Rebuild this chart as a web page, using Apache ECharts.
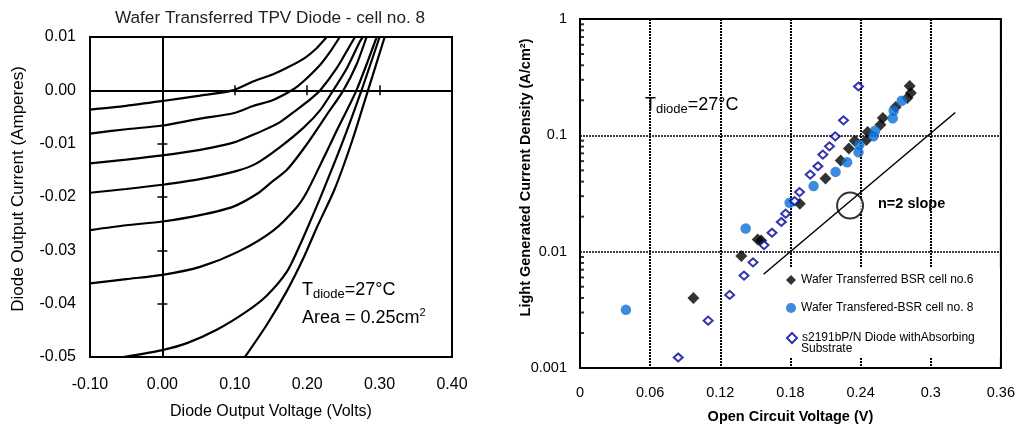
<!DOCTYPE html>
<html><head><meta charset="utf-8">
<script src="https://cdn.jsdelivr.net/npm/echarts@6/dist/echarts.min.js"></script>
<style>html,body{margin:0;padding:0;background:#fff}#c{width:1018px;height:429px}</style>
</head><body><div id="c"></div>
<script>
const FONT = '"Liberation Sans", Arial, Helvetica, sans-serif';

// ---------- Left chart: I-V curves ----------
const leftTitle = 'Wafer Transferred TPV Diode - cell no. 8';
const leftXName = 'Diode Output Voltage (Volts)';
const leftYName = 'Diode Output Current (Amperes)';
const curve1 = [[-0.10,-0.0036],[-0.05,-0.0029],[0.00,-0.0020],[0.052,-0.0010],[0.097,0.0000],[0.126,0.0017],[0.153,0.0030],[0.176,0.0045],[0.197,0.0061],[0.213,0.0079],[0.227,0.0100]];
const curve2 = [[-0.10,-0.0081],[-0.05,-0.0073],[0.00,-0.0066],[0.052,-0.0053],[0.098,-0.0043],[0.126,-0.0029],[0.153,-0.0018],[0.181,0.0002],[0.195,0.0017],[0.218,0.0048],[0.232,0.0073],[0.245,0.0100]];
const curve3 = [[-0.10,-0.0137],[-0.05,-0.0130],[0.00,-0.0122],[0.05,-0.0112],[0.098,-0.0098],[0.126,-0.0083],[0.162,-0.0060],[0.185,-0.0037],[0.205,-0.0016],[0.218,0.0000],[0.241,0.0042],[0.257,0.0079],[0.266,0.0100]];
const curve4 = [[-0.10,-0.0192],[-0.05,-0.0185],[0.00,-0.0177],[0.05,-0.0167],[0.103,-0.0151],[0.130,-0.0137],[0.162,-0.0107],[0.195,-0.0070],[0.218,-0.0037],[0.236,0.0000],[0.255,0.0042],[0.273,0.0092],[0.277,0.0100]];
const curve5 = [[-0.10,-0.0262],[-0.05,-0.0253],[0.00,-0.0246],[0.052,-0.0234],[0.098,-0.0218],[0.132,-0.0193],[0.150,-0.0173],[0.172,-0.0149],[0.199,-0.0102],[0.227,-0.0046],[0.250,0.0000],[0.268,0.0048],[0.282,0.0100]];
const curve6 = [[-0.10,-0.0362],[-0.05,-0.0354],[0.00,-0.0346],[0.052,-0.0331],[0.107,-0.0301],[0.153,-0.0263],[0.185,-0.0220],[0.199,-0.0192],[0.218,-0.0140],[0.241,-0.0075],[0.268,0.0000],[0.296,0.0100]];
const curve7 = [[-0.054,-0.0500],[0.000,-0.0487],[0.034,-0.0474],[0.075,-0.0449],[0.116,-0.0415],[0.144,-0.0385],[0.172,-0.0340],[0.190,-0.0290],[0.206,-0.0240],[0.220,-0.0195],[0.248,-0.0100],[0.275,0.0000],[0.300,0.0100]];
const curve8 = [[0.114,-0.0500],[0.144,-0.0440],[0.172,-0.0376],[0.195,-0.0314],[0.213,-0.0258],[0.238,-0.0185],[0.262,-0.0095],[0.284,0.0000],[0.307,0.0100]];
const ivCurves = [curve1, curve2, curve3, curve4, curve5, curve6, curve7, curve8];

// ---------- Right chart: Jsc vs Voc ----------
const rightXName = 'Open Circuit Voltage (V)';
const rightYName = 'Light Generated Current Density (A/cm²)';
const legendNames = ['Wafer Transferred BSR cell no.6', 'Wafer Transfered-BSR cell no. 8', 's2191bP/N Diode withAbsorbing Substrate'];
const legendLabels = ['Wafer Transferred BSR cell no.6', 'Wafer Transfered-BSR cell no. 8', 's2191bP/N Diode withAbsorbing'];
const legendLabelCont = 'Substrate';
const cell6 = [[0.097,0.0040],[0.138,0.0092],[0.152,0.0127],[0.155,0.0125],[0.188,0.0258],[0.210,0.0425],[0.223,0.0607],[0.230,0.0769],[0.235,0.090],[0.245,0.091],[0.246,0.107],[0.257,0.123],[0.259,0.141],[0.270,0.175],[0.280,0.209],[0.283,0.231],[0.282,0.266]];
const cell8 = [[0.0393,0.00316],[0.1417,0.0158],[0.1793,0.0263],[0.1998,0.0366],[0.2186,0.0485],[0.2285,0.0587],[0.2382,0.0715],[0.239,0.0832],[0.251,0.098],[0.2524,0.1096],[0.2675,0.140],[0.2683,0.163],[0.2752,0.198]];
const s2191 = [[0.084,0.00123],[0.1096,0.00255],[0.128,0.00425],[0.1403,0.00623],[0.148,0.0081],[0.1574,0.0114],[0.1642,0.01455],[0.1722,0.0180],[0.1759,0.0212],[0.1835,0.0272],[0.1878,0.0325],[0.1969,0.046],[0.2035,0.0542],[0.2077,0.0683],[0.2134,0.0805],[0.2183,0.098],[0.2254,0.1345],[0.2382,0.263]];
const slopeLine = [[0.157,0.0064],[0.321,0.157]];
const slopeCircle = [[0.231,0.0249]];
const logMinorTicks = [0.002,0.003,0.004,0.005,0.006,0.007,0.008,0.009,0.02,0.03,0.04,0.05,0.06,0.07,0.08,0.09,0.2,0.3,0.4,0.5,0.6,0.7,0.8,0.9];
const minorTickX = 0.0017; // just inside the left frame of the log axis

const chart = echarts.init(document.getElementById('c'), null, {renderer: 'canvas'});

const fix2 = v => (Math.abs(v) < 1e-9 ? '0.00' : v.toFixed(2));
const hidden = {show: false};

const leftXBase = {gridIndex: 0, type: 'value', min: -0.1, max: 0.4, interval: 0.1, splitLine: hidden};
const leftYBase = {gridIndex: 0, type: 'value', min: -0.05, max: 0.01, interval: 0.01, splitLine: hidden};
const legendCommon = {left: 786, orient: 'vertical', padding: 0, itemWidth: 10, itemHeight: 10, selectedMode: false,
  textStyle: {fontSize: 12, color: '#000', fontFamily: FONT}};

const option = {
  animation: false,
  textStyle: {fontFamily: FONT, color: '#000'},
  title: {text: leftTitle, left: 265, top: 5, textAlign: 'center',
    textStyle: {fontSize: 17.2, fontWeight: 'normal', color: '#222', fontFamily: FONT}},
  grid: [
    {left: 90, top: 37, width: 362, height: 320, show: true, borderColor: '#000', borderWidth: 2, backgroundColor: 'transparent'},
    {left: 580, top: 19, width: 422, height: 350, show: true, borderColor: '#000', borderWidth: 2, backgroundColor: 'transparent'}
  ],
  xAxis: [
    Object.assign({}, leftXBase, {position: 'bottom', axisLine: {show: false, onZero: false}, axisTick: hidden,
      axisLabel: {formatter: fix2, fontSize: 16, color: '#000', margin: 20},
      name: leftXName, nameLocation: 'middle', nameGap: 47, nameTextStyle: {fontSize: 16, color: '#000'}}),
    Object.assign({}, leftXBase, {position: 'bottom', axisLine: {show: true, onZero: true, onZeroAxisIndex: 0, lineStyle: {color: '#000', width: 2}},
      axisTick: {show: true, inside: false, length: 5, lineStyle: {color: '#000', width: 1.5}}, axisLabel: hidden}),
    Object.assign({}, leftXBase, {position: 'bottom', axisLine: {show: false, onZero: true, onZeroAxisIndex: 0},
      axisTick: {show: true, inside: true, length: 5, lineStyle: {color: '#000', width: 1.5}}, axisLabel: hidden}),
    {gridIndex: 1, type: 'value', min: 0, max: 0.36, interval: 0.06, position: 'bottom',
      axisLine: {show: false, onZero: false}, axisTick: hidden,
      axisLabel: {formatter: v => String(+v.toFixed(2)), fontSize: 14.5, color: '#000', margin: 17},
      splitLine: {show: true, lineStyle: {color: '#000', width: 2, type: [2, 1]}},
      name: rightXName, nameLocation: 'middle', nameGap: 41, nameTextStyle: {fontSize: 14.5, fontWeight: 'bold', color: '#000'}}
  ],
  yAxis: [
    Object.assign({}, leftYBase, {position: 'left', axisLine: {show: false, onZero: false}, axisTick: hidden,
      axisLabel: {formatter: fix2, fontSize: 16, color: '#000', margin: 14},
      name: leftYName, nameLocation: 'middle', nameGap: 63, nameTextStyle: {fontSize: 17, color: '#000', padding: [0, 0, 0, 16]}}),
    Object.assign({}, leftYBase, {position: 'left', axisLine: {show: true, onZero: true, onZeroAxisIndex: 0, lineStyle: {color: '#000', width: 2}},
      axisTick: {show: true, inside: false, length: 5, lineStyle: {color: '#000', width: 1.5}}, axisLabel: hidden}),
    Object.assign({}, leftYBase, {position: 'left', axisLine: {show: false, onZero: true, onZeroAxisIndex: 0},
      axisTick: {show: true, inside: true, length: 5, lineStyle: {color: '#000', width: 1.5}}, axisLabel: hidden}),
    {gridIndex: 1, type: 'log', logBase: 10, min: 0.001, max: 1, position: 'left',
      axisLine: {show: false, onZero: false}, axisTick: hidden,
      axisLabel: {formatter: v => String(+(+v).toPrecision(1)), fontSize: 14.5, color: '#000', margin: 13},
      splitLine: {show: true, lineStyle: {color: '#000', width: 1.5, type: [2, 1]}},
      name: rightYName, nameLocation: 'middle', nameGap: 47, nameMoveOverlap: false,
      nameTextStyle: {fontSize: 14.5, fontWeight: 'bold', color: '#000', padding: [0, 0, 0, 32]}}
  ],
  legend: [
    Object.assign({data: [legendNames[0]], top: 274, formatter: () => legendLabels[0]}, legendCommon),
    Object.assign({data: [legendNames[1]], top: 302, formatter: () => legendLabels[1]}, legendCommon),
    Object.assign({data: [legendNames[2]], top: 332, formatter: () => legendLabels[2]}, legendCommon)
  ],
  graphic: [
    {type: 'rect', z: 3, silent: true, shape: {x: 784, y: 268, width: 216, height: 89}, style: {fill: '#fff'}},
    {type: 'text', z: 5, x: 801, y: 349, style: {text: legendLabelCont, verticalAlign: 'middle', fill: '#000', font: '12px ' + FONT}},
    {type: 'text', z: 5, x: 302, y: 290, style: {text: '{m|T}{s|diode}{m|=27°C}', verticalAlign: 'middle', fill: '#000',
      rich: {m: {fontSize: 18, lineHeight: 22, fontFamily: FONT}, s: {fontSize: 13, lineHeight: 13, verticalAlign: 'bottom', fontFamily: FONT}}}},
    {type: 'text', z: 5, x: 302, y: 318, style: {text: '{m|Area = 0.25cm}{p|2}', verticalAlign: 'middle', fill: '#000',
      rich: {m: {fontSize: 18, lineHeight: 22, fontFamily: FONT}, p: {fontSize: 11, lineHeight: 10, verticalAlign: 'top', fontFamily: FONT}}}},
    {type: 'text', z: 5, x: 645, y: 105, style: {text: '{m|T}{s|diode}{m|=27°C}', verticalAlign: 'middle', fill: '#000',
      rich: {m: {fontSize: 18, lineHeight: 22, fontFamily: FONT}, s: {fontSize: 13, lineHeight: 13, verticalAlign: 'bottom', fontFamily: FONT}}}},
    {type: 'text', z: 5, x: 878, y: 204, style: {text: 'n=2 slope', verticalAlign: 'middle', fill: '#000',
      font: 'bold 14.5px ' + FONT}}
  ],
  series: [
    ...ivCurves.map(d => ({type: 'line', xAxisIndex: 0, yAxisIndex: 0, data: d, showSymbol: false, symbol: 'none',
      smooth: 0.25, silent: true, lineStyle: {color: '#000', width: 2.2}})),
    {type: 'line', xAxisIndex: 3, yAxisIndex: 3, data: slopeLine, showSymbol: false, symbol: 'none', silent: true,
      lineStyle: {color: '#000', width: 1.5}},
    {type: 'scatter', xAxisIndex: 3, yAxisIndex: 3, data: slopeCircle, symbol: 'emptyCircle', symbolSize: 26, silent: true,
      itemStyle: {color: '#000', borderColor: '#000', borderWidth: 1.5}},
    {type: 'scatter', xAxisIndex: 3, yAxisIndex: 3, data: logMinorTicks.map(v => [minorTickX, v]), symbol: 'rect', symbolSize: [4, 2],
      silent: true, itemStyle: {color: '#000'}},
    {type: 'scatter', name: legendNames[0], xAxisIndex: 3, yAxisIndex: 3, data: cell6, symbol: 'diamond', symbolSize: 12,
      itemStyle: {color: '#000'}},
    {type: 'scatter', name: legendNames[1], xAxisIndex: 3, yAxisIndex: 3, data: cell8, symbol: 'circle', symbolSize: 10.5,
      itemStyle: {color: '#0b6fd4'}},
    {type: 'scatter', name: legendNames[2], xAxisIndex: 3, yAxisIndex: 3, data: s2191, symbol: 'emptyDiamond', symbolSize: [9, 8],
      itemStyle: {color: '#000099', borderColor: '#000099', borderWidth: 2}}
  ]
};
chart.setOption(option);
</script>
</body></html>
